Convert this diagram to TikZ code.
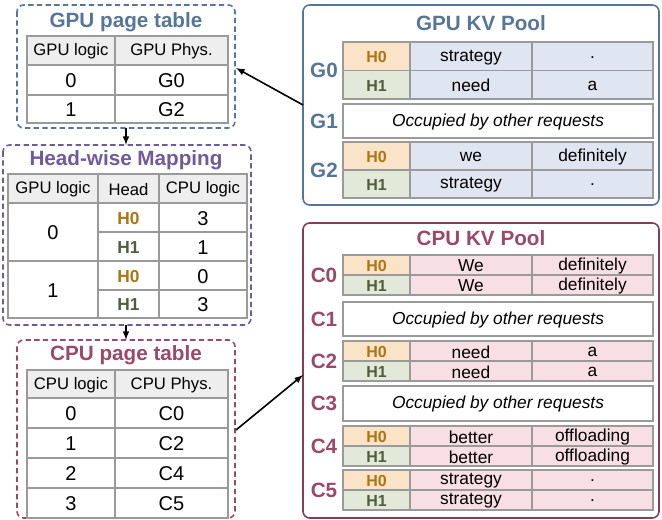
\documentclass[tikz,border=0pt]{standalone}
\usepackage{fontspec}
\setmainfont{Liberation Sans}
\definecolor{gblue}{HTML}{56759A}
\definecolor{hpurp}{HTML}{6F5A9E}
\definecolor{cmag}{HTML}{9C4868}
\definecolor{hzf}{HTML}{FBE3C8}
\definecolor{hzt}{HTML}{AD7414}
\definecolor{hof}{HTML}{E2E9D8}
\definecolor{hot}{HTML}{4E5E3E}
\definecolor{gcell}{HTML}{DFE6F1}
\definecolor{ccell}{HTML}{F8DFE6}
\definecolor{hdr}{HTML}{EEEEEE}
\definecolor{lineg}{HTML}{9A9A9A}
\newcommand\cel[6]{\draw[lineg,fill=#1] (#2,#3) rectangle (#4,#5);
  \node[font=\fontsize{#6}{#6}\selectfont] at ({(#2+#4)/2},{(#3+#5)/2+1})}
\begin{document}
\begin{tikzpicture}[x=0.75pt,y=-0.75pt,line width=0.8pt]
\useasboundingbox (0,0) rectangle (662,520);
\tikzset{dbox/.style={dashed,rounded corners=5pt,line width=1.2pt,dash pattern=on 4pt off 2.5pt},
 ttl/.style={font=\bfseries\fontsize{15.5}{16}\selectfont},
 arr/.style={-latex,line width=1.2pt,black}}
% GPU page table
\draw[dbox,gblue] (17,5) rectangle (235,128); \coordinate (gpt) at (236,68);
\node[ttl,gblue] at (126,22) {GPU page table};
\cel{hdr}{27}{36}{115}{65}{12.5}{GPU logic};
\cel{hdr}{115}{36}{228}{65}{12.5}{GPU Phys.};
\cel{white}{27}{65}{115}{95}{15}{0};
\cel{white}{115}{65}{228}{95}{15}{G0};
\cel{white}{27}{95}{115}{123}{15}{1};
\cel{white}{115}{95}{228}{123}{15}{G2};
% Head-wise
\draw[dbox,hpurp] (3,145) rectangle (251,325);
\node[ttl,hpurp] at (126,160) {Head-wise Mapping};
\cel{hdr}{8}{174}{98}{203}{12.5}{GPU logic};
\cel{hdr}{98}{174}{159}{203}{12.5}{Head};
\cel{hdr}{159}{174}{247}{203}{12.5}{CPU logic};
\cel{white}{8}{203}{98}{261}{15}{0};
\cel{white}{8}{261}{98}{318}{15}{1};
\cel{white}{98}{203}{159}{232}{13}{\bfseries\color{hzt}H0};
\cel{white}{98}{232}{159}{261}{13}{\bfseries\color{hot}H1};
\cel{white}{98}{261}{159}{290}{13}{\bfseries\color{hzt}H0};
\cel{white}{98}{290}{159}{318}{13}{\bfseries\color{hot}H1};
\cel{white}{159}{203}{247}{232}{15}{3};
\cel{white}{159}{232}{247}{261}{15}{1};
\cel{white}{159}{261}{247}{290}{15}{0};
\cel{white}{159}{290}{247}{318}{15}{3};
% CPU page table
\draw[dbox,cmag] (17,340) rectangle (235,518); \coordinate (cpt) at (236,430);
\node[ttl,cmag] at (126,355) {CPU page table};
\cel{hdr}{27}{370}{115}{398}{12.5}{CPU logic};
\cel{hdr}{115}{370}{228}{398}{12.5}{CPU Phys.};
\foreach \l/\p [count=\i from 0] in {0/C0,1/C2,2/C4,3/C5}{
  \pgfmathsetmacro\ya{398+30*\i}\pgfmathsetmacro\yb{428+30*\i}
  \cel{white}{27}{\ya}{115}{\yb}{15}{\l};
  \cel{white}{115}{\ya}{228}{\yb}{15}{\p};}
\draw[arr] (126,128) -- (126,145);
\draw[arr] (126,325) -- (126,340);
% GPU KV Pool
\draw[gblue,rounded corners=5pt,line width=1.2pt] (303,5) rectangle (659,205);
\coordinate (gkv) at (303,105);
\node[ttl,gblue] at (481,23) {GPU KV Pool};
\newcommand\blk[9]{%
  \pgfmathsetmacro\ym{(#1+#2)/2}
  \cel{hzf}{343}{#1}{410}{\ym}{12}{\bfseries\color{hzt}H0};
  \cel{hof}{343}{\ym}{410}{#2}{12}{\bfseries\color{hot}H1};
  \cel{#4}{410}{#1}{532}{\ym}{13}{#5};
  \cel{#4}{532}{#1}{653}{\ym}{13}{#6};
  \cel{#4}{410}{\ym}{532}{#2}{13}{#7};
  \cel{#4}{532}{\ym}{653}{#2}{13}{#8};
  \node[font=\bfseries\fontsize{15.5}{16}\selectfont,#9] at (324,\ym) {#3};}
\newcommand\occ[4]{\cel{white}{343}{#1}{653}{#2}{13}{\itshape Occupied by other requests};
  \node[font=\bfseries\fontsize{15.5}{16}\selectfont,#4] at (324,{(#1+#2)/2}) {#3};}
\blk{42}{99}{G0}{gcell}{strategy}{.}{need}{a}{gblue}
\occ{104}{138}{G1}{gblue}
\blk{142}{198}{G2}{gcell}{we}{definitely}{strategy}{.}{gblue}
% CPU KV Pool
\draw[cmag!85!black,rounded corners=5pt,line width=1.2pt] (303,223) rectangle (659,518);
\coordinate (ckv) at (303,375);
\node[ttl,cmag] at (481,238) {CPU KV Pool};
\blk{255}{295}{C0}{ccell}{We}{definitely}{We}{definitely}{cmag}
\occ{302}{336}{C1}{cmag}
\blk{341}{381}{C2}{ccell}{need}{a}{need}{a}{cmag}
\occ{386}{421}{C3}{cmag}
\blk{426}{466}{C4}{ccell}{better}{offloading}{better}{offloading}{cmag}
\blk{470}{510}{C5}{ccell}{strategy}{.}{strategy}{.}{cmag}
\draw[arr] (gkv) -- (gpt);
\draw[arr] (cpt) -- (ckv);
\end{tikzpicture}
\end{document}
